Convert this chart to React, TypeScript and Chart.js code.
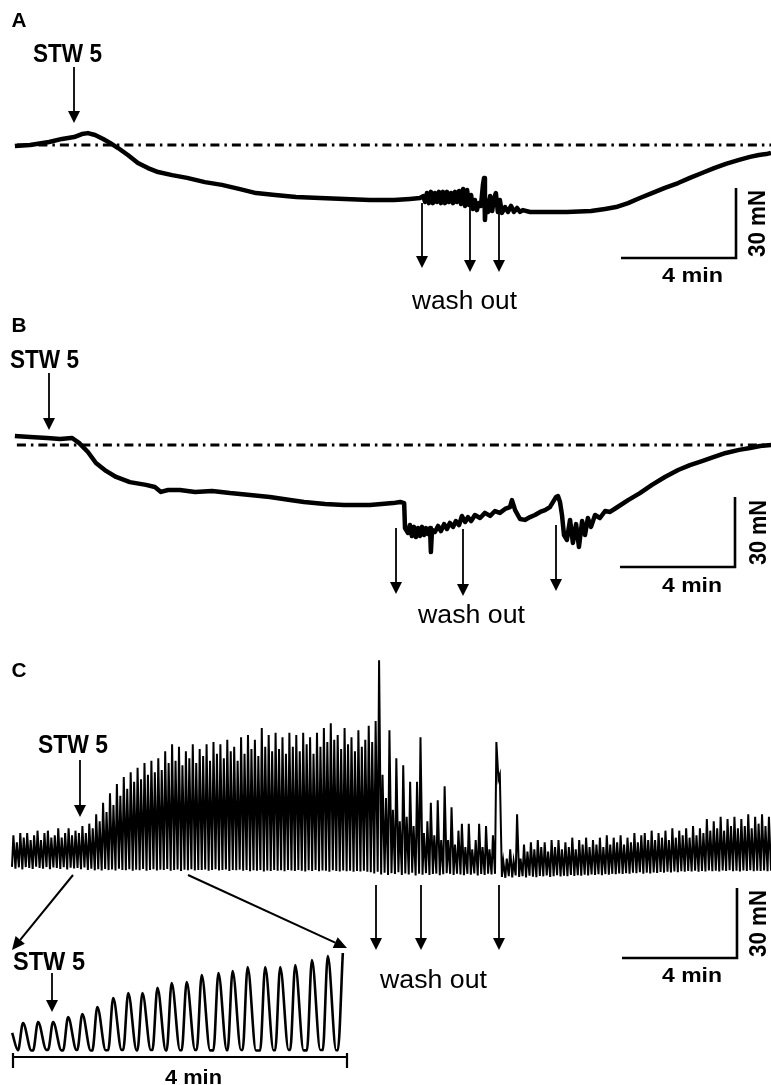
import React, { useEffect, useRef } from 'react';
import { Chart, registerables } from 'chart.js';

Chart.register(...registerables);

// ------------------------------------------------------------------
// DATA  (time in min, force in mN)
// ------------------------------------------------------------------

// Panel A – tension trace (relative to the pre-drug baseline)
const aTime = [
  0.10, 0.63, 1.29, 1.74, 2.16, 2.43, 2.64, 2.89, 3.17, 3.41,
  3.69, 4.03, 4.38, 4.73, 5.08, 5.57, 6.09, 6.71, 7.30, 7.93,
  8.49, 9.15, 9.88, 10.71, 11.58, 12.45, 13.29, 13.84, 14.19,
  14.30, 14.37, 14.43, 14.50, 14.57, 14.64, 14.71, 14.78, 14.85, 14.92,
  14.99, 15.06, 15.13, 15.20, 15.27, 15.34, 15.41, 15.48, 15.55, 15.62,
  15.69, 15.76, 15.83, 15.90, 15.97, 16.03, 16.10, 16.17, 16.24, 16.31,
  16.38, 16.42, 16.45, 16.49,
  16.56, 16.63, 16.70, 16.77, 16.83, 16.90, 16.97, 17.04,
  17.15, 17.25, 17.36, 17.46, 17.57, 17.67, 17.77,
  18.02, 18.54, 19.30, 20.14, 20.63, 21.01, 21.43, 21.84, 22.26, 22.71,
  23.17, 23.58, 24.00, 24.42, 24.83, 25.29, 25.67, 25.98, 26.23, 26.40,
];
const aForce = [
  -0.4, 0, 1.3, 2.6, 3.4, 4.7, 5.1, 4.3, 2.6, 0.9,
  -1.3, -4.3, -7.7, -9.9, -11.6, -12.9, -14.1, -15.9, -17.1, -18.9,
  -20.6, -21.4, -22.3, -22.7, -23.1, -23.6, -23.6, -23.1, -22.7,
  -21.9, -24.4, -20.6, -24.9, -20.1, -24.9, -20.6, -24.4, -20.1, -24.9,
  -20.1, -24.9, -20.1, -24.4, -20.6, -24.9, -20.1, -24.4, -19.7, -25.3,
  -18.9, -26.1, -19.3, -25.7, -21.4, -27.4, -23.6, -27.9, -24.9, -26.1,
  -17.1, -14.1, -32.1, -23.6,
  -28.7, -21.9, -28.3, -22.7, -20.6, -28.7, -23.6, -29.1,
  -26.6, -28.7, -26.1, -28.7, -27.0, -28.7, -27.9,
  -28.7, -28.7, -28.7, -28.3, -27.4, -26.6, -24.9, -22.7, -20.6, -18.4,
  -16.3, -14.1, -12.0, -9.9, -8.1, -6.4, -5.1, -4.3, -3.9, -3.4,
];

// Panel B – tension trace
const bTime = [
  0.10, 0.63, 1.22, 1.67, 2.09, 2.33, 2.64, 2.92, 3.27, 3.62,
  4.10, 4.66, 4.97, 5.18, 5.43, 5.84, 6.37, 6.96, 7.58, 8.28,
  8.97, 9.67, 10.16, 10.89, 11.55, 12.45, 13.25, 13.50, 13.64,
  13.67, 13.77, 13.84, 13.91, 13.98, 14.05, 14.12, 14.19, 14.26, 14.33,
  14.40, 14.47, 14.54, 14.57, 14.61, 14.71, 14.82, 14.92, 15.03, 15.13,
  15.23, 15.34, 15.44, 15.55, 15.65, 15.76, 15.86, 15.97, 16.10, 16.28,
  16.45, 16.63, 16.80, 16.97, 17.15, 17.32, 17.39, 17.50, 17.67, 17.84,
  18.02, 18.19, 18.37, 18.54, 18.71, 18.82, 18.92, 18.99, 19.06, 19.13,
  19.20, 19.30, 19.41, 19.51, 19.62, 19.72, 19.83, 19.93, 20.03, 20.14,
  20.28, 20.45, 20.63, 20.80, 21.01, 21.43, 21.84, 22.26, 22.71, 23.17,
  23.58, 24.00, 24.42, 24.83, 25.29, 25.67, 26.02, 26.40,
];
const bForce = [
  3.9, 3.4, 3.0, 2.6, 3.0, 0.9, -3.0, -7.7, -11.1, -13.7,
  -15.9, -17.1, -18.0, -20.1, -19.3, -19.3, -20.1, -19.7, -20.6, -21.4,
  -22.3, -23.6, -24.4, -25.3, -25.7, -25.7, -24.9, -24.4, -24.9,
  -35.6, -37.7, -34.3, -39.0, -35.1, -39.4, -35.6, -39.0, -35.1, -38.6,
  -35.6, -38.1, -35.6, -45.9, -36.4, -37.3, -34.7, -36.9, -33.9, -36.0,
  -33.4, -35.1, -32.6, -34.3, -30.4, -33.0, -30.9, -32.6, -30.0, -31.3,
  -29.1, -30.4, -28.3, -29.1, -27.4, -26.6, -23.6, -27.9, -31.7, -32.1,
  -30.9, -30.0, -28.7, -27.9, -26.6, -24.4, -22.3, -21.9, -24.4, -30.0,
  -38.6, -40.7, -32.1, -42.0, -33.9, -43.7, -32.6, -38.6, -31.3, -35.1,
  -30.0, -31.3, -28.3, -28.7, -27.0, -23.6, -20.6, -17.1, -13.7, -10.7,
  -8.6, -6.9, -5.1, -3.4, -2.1, -1.3, -0.4, 0,
];

// Dash-dot baseline (A and B) – start / end time
const baselineTime = [0.17, 26.4];

// Panel C – spontaneous contractions: one peak and one trough per cycle
const CYCLE_MIN = 0.12;       // contraction period of the main C trace
const RISE_FRACTION = 0.4;    // part of a cycle taken by the rising phase
const cPeaks = [
  // before STW 5
  14, 11, 15, 13, 15, 12, 14, 16, 12, 15, 16, 13, 14, 17, 13, 15, 17, 14, 16, 15,
  // rise after STW 5
  18, 15, 19, 17, 23, 20, 28, 24, 32, 27, 36, 31, 39, 34, 41, 37, 43, 38, 45, 40, 46, 41, 47, 42, 50, 45,
  // plateau
  53, 46, 52, 44, 50, 47, 53, 45, 51, 48, 53, 46, 54, 49, 53, 47, 55, 50, 52, 46, 56, 49, 57, 51, 55, 48, 60, 52, 57, 50,
  58, 51, 56, 49, 58, 52, 57, 50, 58, 53, 56, 49, 58, 52, 60, 54, 62, 55, 57, 51, 60, 53, 56, 50, 59, 52, 55, 61,
  // wash out
  54, 63, 89, 40, 30, 59, 25, 47, 20, 44, 22, 37, 18, 37, 56, 15, 20, 28, 14, 29,
  12, 35, 12, 26, 10, 16, 19, 9, 19, 8, 12, 19, 9, 18, 8, 14, 54, 40, 3, 4,
  8, 3, 23, 4,
  // recovery
  10, 7, 11, 8, 12, 9, 11, 7, 12, 9, 12, 8, 11, 9, 13, 8, 12, 10, 13, 9, 12, 10, 13, 9, 14, 10, 13, 11, 14, 10, 13, 11, 15, 11, 14,
  15, 12, 16, 12, 15, 13, 16, 12, 17, 13, 16, 14, 17, 13, 18, 14, 17, 15,
  21, 16, 20, 17, 22, 16, 21, 18, 22, 17, 21, 18, 23, 17, 22, 19, 23, 18, 22, 20,
];
const cTroughs = [
  0.5, -0.3, 0.3, -0.6, 0.4, 0, -0.4, 0.6, 0, -0.3, 0.4, -0.5, 0.2, 0, -0.4, 0.3, -0.6, 0.1, -0.2, 0,
  -0.5, 0.2, -0.8, -0.3, -1, -0.5, -1.1, -0.4, -0.9, -0.6, -1.1, -0.3, -0.8, -1, -0.5, -1.2, -0.7, -1, -0.4, -1.2, -0.8, -0.5, -1.1, -0.7, -0.9, -0.4,
  -1.2, -0.8, -0.6, -1.3, -0.7, -1, -0.5, -1.1, -0.8, -0.9, -0.6, -1.2, -0.8, -0.5, -1.1, -0.9, -0.6, -1.3, -0.8, -1, -0.7, -1.2, -0.9, -1.4, -1, -1.2, -0.8, -1.5, -1.1, -1.3,
  -0.9, -1.2, -1, -1.4, -0.8, -1.1, -1.3, -0.9, -1.2, -1.5, -1, -1.3, -0.9, -1.4, -1.1, -1.2, -1.6, -1, -1.3, -1.5, -1.1, -1.4, -1.2, -1.6, -1.3, -1.5, -1.2, -1.6,
  -1.8, -2.4, -1.6, -2.8, -2, -3, -2.2, -2.6, -1.8, -3, -2.4, -2.8, -2, -3.2, -2.5, -2.9, -2.2, -3, -2.6, -2.4,
  -3.1, -2.7, -2.2, -2.5, -3, -2.4, -2.8, -3.1, -2.5, -2.9, -2.3, -3.2, -2.6, -3, -2.4, -2.8, -2.5, 38, -3.8, -4.2,
  -3.5, -4, -3.2, -3.8,
  -3.5, -4, -3.3, -3.7, -3.9, -3.4, -3.6, -3.2, -3.8, -3.5, -3.1, -3.6, -3.3, -3.5, -3, -3.4, -3.1, -3.3, -2.9, -3.2,
  -2.8, -3, -2.7, -3.1, -2.6, -2.9, -2.5, -2.7, -2.3, -2.6, -2.2, -2.4, -2, -2.2, -1.8, -2.4, -2, -2.3, -1.9, -2.1,
  -1.7, -2, -1.6, -1.9, -1.5, -1.8, -1.4, -1.6, -1.3, -1.5, -1.2, -1.6, -1.3, -1.5, -1.1, -1.4, -1.2, -1.5, -1.1, -1.3,
  -1, -1.4, -1.2, -1.5, -1.1, -1.3, -1, -1.4, -1.2, -1.3, -1.1, -1.4, -1.2,
];

// Inset of C – expanded 4 min around STW 5 application
const insetStart = [-0.01, 10.6];   // [time, force] of the first sample
const insetPeakTimes = [
  0.12, 0.30, 0.48, 0.66, 0.83, 1.01, 1.20, 1.38, 1.55, 1.73, 1.90,
  2.08, 2.26, 2.46, 2.63, 2.81, 3.02, 3.20, 3.38, 3.58, 3.77, 3.95,
];
const insetPeaks = [
  16.1, 16.7, 16.7, 19.4, 21.1, 25.0, 30.0, 32.8, 32.8, 35.6, 38.3,
  38.9, 42.8, 43.9, 45.0, 47.2, 47.2, 47.2, 48.3, 51.1, 53.3, 55.0,
];
const insetTroughs = [
  1.0, 0.8, 1.2, 0.9, 1.1, 0.8, 1.0, 1.2, 0.9, 1.1, 0.8,
  1.0, 1.2, 0.9, 1.0, 1.1, 0.8, 1.0, 1.2, 0.9, 1.1, 1.0,
];
const INSET_RISE_MIN = 0.06;   // trough -> peak
const INSET_FALL_MIN = 0.10;   // peak -> trough

// ------------------------------------------------------------------
// LAYOUT (pixel geometry of the figure -> axis ranges)
// ------------------------------------------------------------------
const W = 771;
const H = 1085;
const MAIN_PX_PER_MIN = 115 / 4;
const MAIN_T0_PX = 12;
const PX_PER_MN = 70 / 30;
const ZERO_PX: Record<string, number> = { yA: 145, yB: 445, yC: 868 };
const INSET_PX_PER_MIN = 334 / 4;
const INSET_T0_PX = 13;
const INSET_ZERO_PX = 1052;
const INSET_PX_PER_MN = 1.8;

const FONT = '"Liberation Sans", Arial, Helvetica, sans-serif';

// Annotations (in data units of each panel)
const downArrows = [
  { xa: 'x', ya: 'yA', t: 2.157, from: 33.43, to: 9.43 },
  { xa: 'x', ya: 'yA', t: 14.261, from: -24.86, to: -52.71 },
  { xa: 'x', ya: 'yA', t: 15.93, from: -26.57, to: -54.43 },
  { xa: 'x', ya: 'yA', t: 16.939, from: -29.14, to: -54.43 },
  { xa: 'x', ya: 'yB', t: 1.287, from: 30.86, to: 6.43 },
  { xa: 'x', ya: 'yB', t: 13.357, from: -35.57, to: -63.86 },
  { xa: 'x', ya: 'yB', t: 15.687, from: -36.0, to: -64.71 },
  { xa: 'x', ya: 'yB', t: 18.922, from: -34.29, to: -62.57 },
  { xa: 'x', ya: 'yC', t: 2.365, from: 46.29, to: 21.86 },
  { xa: 'x', ya: 'yC', t: 12.661, from: -7.29, to: -35.14 },
  { xa: 'x', ya: 'yC', t: 14.226, from: -7.29, to: -35.14 },
  { xa: 'x', ya: 'yC', t: 16.939, from: -7.29, to: -35.14 },
  { xa: 'xi', ya: 'yi', t: 0.467, from: 43.9, to: 22.2 },
];
const zoomArrows = [
  { t1: 2.122, f1: -3.0, t2: 0, f2: -35.14 },
  { t1: 6.122, f1: -3.0, t2: 11.652, f2: -34.29 },
];
const scaleBars = [
  { ya: 'yA', t: 25.183, f: -48.43 },
  { ya: 'yB', t: 25.148, f: -52.29 },
  { ya: 'yC', t: 25.217, f: -38.57 },
];
const SCALE_MIN = 4;
const SCALE_MN = 30;

type TextSpec = { text: string; xa: string; ya: string; t: number; f: number; font: string; width: number; rotate?: boolean };
const texts: TextSpec[] = [
  { text: 'A', xa: 'x', ya: 'yA', t: -0.017, f: 50.57, font: `bold 21px ${FONT}`, width: 15 },
  { text: 'B', xa: 'x', ya: 'yB', t: -0.017, f: 48.43, font: `bold 21px ${FONT}`, width: 15 },
  { text: 'C', xa: 'x', ya: 'yC', t: -0.017, f: 81.86, font: `bold 21px ${FONT}`, width: 15 },
  { text: 'STW 5', xa: 'x', ya: 'yA', t: 0.73, f: 35.57, font: `bold 25px ${FONT}`, width: 69 },
  { text: 'STW 5', xa: 'x', ya: 'yB', t: -0.07, f: 33.0, font: `bold 25px ${FONT}`, width: 69 },
  { text: 'STW 5', xa: 'x', ya: 'yC', t: 0.904, f: 49.29, font: `bold 25px ${FONT}`, width: 70 },
  { text: 'STW 5', xa: 'xi', ya: 'yi', t: 0, f: 45.56, font: `bold 25px ${FONT}`, width: 72 },
  { text: 'wash out', xa: 'x', ya: 'yA', t: 13.913, f: -70.29, font: `25px ${FONT}`, width: 105 },
  { text: 'wash out', xa: 'x', ya: 'yB', t: 14.122, f: -76.29, font: `25px ${FONT}`, width: 107 },
  { text: 'wash out', xa: 'x', ya: 'yC', t: 12.8, f: -51.43, font: `25px ${FONT}`, width: 107 },
  { text: '4 min', xa: 'x', ya: 'yA', t: 22.609, f: -58.5, font: `bold 21px ${FONT}`, width: 61 },
  { text: '4 min', xa: 'x', ya: 'yB', t: 22.609, f: -63.0, font: `bold 21px ${FONT}`, width: 60 },
  { text: '4 min', xa: 'x', ya: 'yC', t: 22.609, f: -48.7, font: `bold 21px ${FONT}`, width: 60 },
  { text: '4 min', xa: 'xi', ya: 'yi', t: 1.82, f: -17.78, font: `bold 21px ${FONT}`, width: 57 },
  { text: '30 mN', xa: 'x', ya: 'yA', t: 26.191, f: -48.0, font: `bold 24px ${FONT}`, width: 67, rotate: true },
  { text: '30 mN', xa: 'x', ya: 'yB', t: 26.226, f: -51.43, font: `bold 24px ${FONT}`, width: 65, rotate: true },
  { text: '30 mN', xa: 'x', ya: 'yC', t: 26.226, f: -38.14, font: `bold 24px ${FONT}`, width: 67, rotate: true },
];

function drawArrow(ctx: CanvasRenderingContext2D, x1: number, y1: number, x2: number, y2: number, head = 12, half = 6, lw = 1.8) {
  const ang = Math.atan2(y2 - y1, x2 - x1);
  const bx = x2 - head * Math.cos(ang);
  const by = y2 - head * Math.sin(ang);
  ctx.lineWidth = lw;
  ctx.beginPath();
  ctx.moveTo(x1, y1);
  ctx.lineTo(bx, by);
  ctx.stroke();
  ctx.beginPath();
  ctx.moveTo(x2, y2);
  ctx.lineTo(bx + half * Math.sin(ang), by - half * Math.cos(ang));
  ctx.lineTo(bx - half * Math.sin(ang), by + half * Math.cos(ang));
  ctx.closePath();
  ctx.fill();
}

const annotationPlugin = {
  id: 'figureAnnotations',
  afterDatasetsDraw(chart: any) {
    const ctx: CanvasRenderingContext2D = chart.ctx;
    const s = chart.scales;
    const px = (a: string, v: number) => s[a].getPixelForValue(v);
    ctx.save();
    ctx.fillStyle = '#000';
    ctx.strokeStyle = '#000';
    ctx.lineCap = 'butt';

    for (const a of downArrows) {
      const x = px(a.xa, a.t);
      drawArrow(ctx, x, px(a.ya, a.from), x, px(a.ya, a.to));
    }
    for (const a of zoomArrows) {
      drawArrow(ctx, px('x', a.t1), px('yC', a.f1), px('x', a.t2), px('yC', a.f2), 13, 6, 2);
    }

    ctx.lineWidth = 2.6;
    ctx.lineJoin = 'miter';
    for (const b of scaleBars) {
      ctx.beginPath();
      ctx.moveTo(px('x', b.t - SCALE_MIN), px(b.ya, b.f));
      ctx.lineTo(px('x', b.t), px(b.ya, b.f));
      ctx.lineTo(px('x', b.t), px(b.ya, b.f + SCALE_MN));
      ctx.stroke();
    }

    // inset 4-min bar with end ticks
    ctx.lineWidth = 2.2;
    ctx.beginPath();
    ctx.moveTo(px('xi', 0), px('yi', -2.78));
    ctx.lineTo(px('xi', SCALE_MIN), px('yi', -2.78));
    for (const t of [0, SCALE_MIN]) {
      ctx.moveTo(px('xi', t), px('yi', -0.56));
      ctx.lineTo(px('xi', t), px('yi', -8.9));
    }
    ctx.stroke();

    for (const tx of texts) {
      ctx.save();
      ctx.font = tx.font;
      ctx.textAlign = 'left';
      ctx.textBaseline = 'alphabetic';
      const w = ctx.measureText(tx.text).width;
      ctx.translate(px(tx.xa, tx.t), px(tx.ya, tx.f));
      if (tx.rotate) ctx.rotate(-Math.PI / 2);
      ctx.scale(tx.width / w, 1);
      ctx.fillText(tx.text, 0, 0);
      ctx.restore();
    }
    ctx.restore();
  },
};

function yRange(zeroPx: number) {
  return { min: (zeroPx - H) / PX_PER_MN, max: zeroPx / PX_PER_MN };
}

export default function App() {
  const ref = useRef<HTMLCanvasElement | null>(null);

  useEffect(() => {
    if (!ref.current) return;

    const aPts = aTime.map((t, i) => ({ x: t, y: aForce[i] }));
    const bPts = bTime.map((t, i) => ({ x: t, y: bForce[i] }));

    const cPts: { x: number; y: number }[] = [];
    cPeaks.forEach((pk, i) => {
      const t0 = i * CYCLE_MIN;
      cPts.push({ x: t0, y: cTroughs[i] });
      cPts.push({ x: t0 + RISE_FRACTION * CYCLE_MIN, y: pk });
    });
    cPts.push({ x: cPeaks.length * CYCLE_MIN, y: cTroughs[cTroughs.length - 1] });

    const iPts: { x: number; y: number }[] = [{ x: insetStart[0], y: insetStart[1] }];
    insetPeakTimes.forEach((tp, k) => {
      if (k > 0) iPts.push({ x: insetPeakTimes[k - 1] + INSET_FALL_MIN, y: insetTroughs[k] });
      iPts.push({ x: tp - INSET_RISE_MIN, y: insetTroughs[k] });
      iPts.push({ x: tp, y: insetPeaks[k] });
    });

    const base = { pointRadius: 0, borderColor: '#000', fill: false, clip: false as any, tension: 0 };

    const chart = new Chart(ref.current, {
      type: 'line',
      data: {
        datasets: [
          { ...base, data: aPts, xAxisID: 'x', yAxisID: 'yA', borderWidth: 4.5, borderJoinStyle: 'round' },
          { ...base, data: baselineTime.map((t) => ({ x: t, y: 0 })), xAxisID: 'x', yAxisID: 'yA', borderWidth: 3, borderDash: [9, 5, 2.5, 5] },
          { ...base, data: bPts, xAxisID: 'x', yAxisID: 'yB', borderWidth: 4.5, borderJoinStyle: 'round' },
          { ...base, data: baselineTime.map((t) => ({ x: t, y: 0 })), xAxisID: 'x', yAxisID: 'yB', borderWidth: 3, borderDash: [9, 5, 2.5, 5] },
          { ...base, data: cPts, xAxisID: 'x', yAxisID: 'yC', borderWidth: 2.0 },
          { ...base, data: iPts, xAxisID: 'xi', yAxisID: 'yi', borderWidth: 2.6, cubicInterpolationMode: 'monotone' },
        ] as any,
      },
      options: {
        responsive: false,
        maintainAspectRatio: false,
        animation: false,
        devicePixelRatio: 1,
        events: [],
        layout: { padding: 0 },
        plugins: { legend: { display: false }, tooltip: { enabled: false }, title: { display: false } },
        scales: {
          x: { type: 'linear', axis: 'x', display: false, min: -MAIN_T0_PX / MAIN_PX_PER_MIN, max: (W - MAIN_T0_PX) / MAIN_PX_PER_MIN },
          yA: { type: 'linear', axis: 'y', display: false, ...yRange(ZERO_PX.yA) },
          yB: { type: 'linear', axis: 'y', display: false, ...yRange(ZERO_PX.yB) },
          yC: { type: 'linear', axis: 'y', display: false, ...yRange(ZERO_PX.yC) },
          xi: { type: 'linear', axis: 'x', display: false, min: -INSET_T0_PX / INSET_PX_PER_MIN, max: (W - INSET_T0_PX) / INSET_PX_PER_MIN },
          yi: { type: 'linear', axis: 'y', display: false, min: (INSET_ZERO_PX - H) / INSET_PX_PER_MN, max: INSET_ZERO_PX / INSET_PX_PER_MN },
        } as any,
      },
      plugins: [annotationPlugin],
    });

    return () => chart.destroy();
  }, []);

  return (
    <div style={{ position: 'absolute', left: 0, top: 0, width: W, height: H, background: '#fff' }}>
      <canvas ref={ref} width={W} height={H} style={{ display: 'block', width: W, height: H }} />
    </div>
  );
}
